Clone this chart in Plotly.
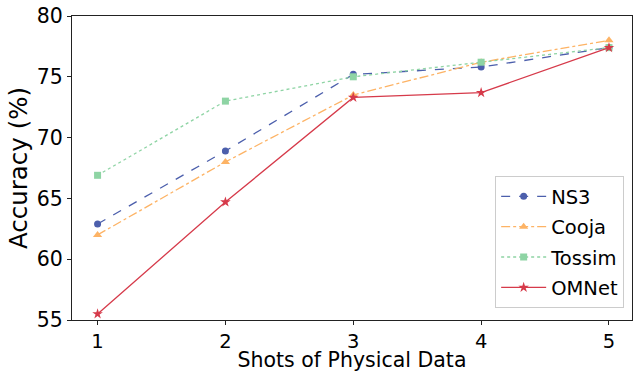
import plotly.graph_objects as go

shots = [1, 2, 3, 4, 5]
ns3 = [62.9, 68.9, 75.2, 75.8, 77.4]
cooja = [62.0, 68.0, 73.5, 76.2, 78.0]
tossim = [66.9, 73.0, 75.0, 76.2, 77.4]
omnet = [55.5, 64.7, 73.3, 73.7, 77.4]

series = [
    ("NS3", ns3, "#4c5fac", "dash", "circle", 7),
    ("Cooja", cooja, "#fdb365", "dashdot", "triangle-up", 8),
    ("Tossim", tossim, "#8ed4a4", "dot", "square", 7),
    ("OMNet", omnet, "#d63a4a", "solid", "star", 8),
]

fig = go.Figure()
for name, vals, color, dash, sym, size in series:
    fig.add_trace(go.Scatter(
        x=shots, y=vals, name=name, mode="lines+markers", legendgroup=name,
        line=dict(color=color, dash=dash, width=1.3),
        marker=dict(symbol=sym, size=size, color=color),
    ))

axis_common = dict(
    showline=True, linecolor="#222222", linewidth=1, mirror=True,
    ticks="outside", ticklen=4, tickcolor="#222222", showgrid=False,
    zeroline=False, automargin=False,
)
fig.update_xaxes(range=[0.8, 5.18], tickvals=shots, **axis_common,
                 tickfont=dict(size=19.5, color="black"),
                 title=dict(text="Shots of Physical Data", font=dict(size=20.5, color="black"), standoff=3))
fig.update_yaxes(range=[55, 80], tickvals=[55, 60, 65, 70, 75, 80], **axis_common,
                 tickfont=dict(size=20.5, color="black"),
                 title=dict(text="Accuracy (%)", font=dict(size=24.5, color="black"), standoff=2))

fig.update_layout(
    width=636, height=372,
    margin=dict(l=72, r=4, t=16, b=52),
    paper_bgcolor="white", plot_bgcolor="white",
    font=dict(family="DejaVu Sans", color="black"),
    legend=dict(x=0.986, y=0.039, xanchor="right", yanchor="bottom",
                bgcolor="white", bordercolor="#cccccc", borderwidth=1,
                itemwidth=45,
                font=dict(size=19.5, color="black"), tracegroupgap=2),
)
fig.write_html("out.html", config={"displayModeBar": False},
               post_script="document.body.style.margin='0';document.body.style.overflow='hidden';")
